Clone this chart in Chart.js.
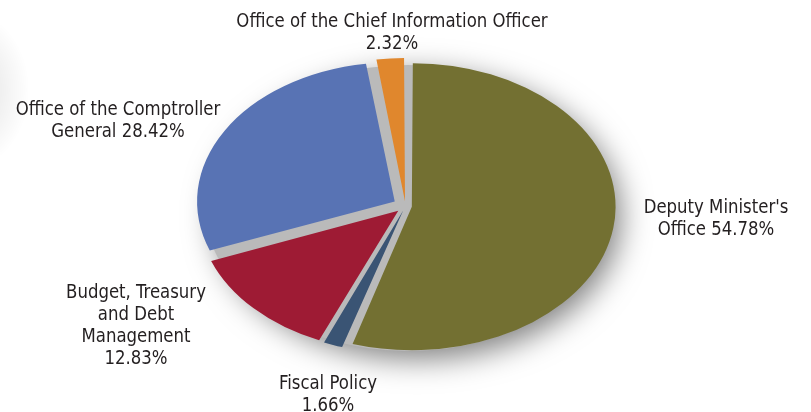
<!DOCTYPE html>
<html>
<head>
<meta charset="utf-8">
<script src="https://cdn.jsdelivr.net/npm/chart.js@4"></script>
<style>
  html, body { margin: 0; padding: 0; background: #fff; }
  #wrap { position: relative; width: 811px; height: 412px; overflow: hidden; }
  #edgeShade {
    position: absolute; left: -60px; top: 10px; width: 90px; height: 160px;
    background: radial-gradient(ellipse at 30% 50%, rgba(0,0,0,0.13), rgba(0,0,0,0) 70%);
  }
  .lbl {
    position: absolute; transform: translateX(-50%) scaleX(0.92);
    font-family: "DejaVu Sans Condensed", "DejaVu Sans", sans-serif;
    font-stretch: condensed;
    font-size: 20px; line-height: 22px; color: #231f20;
    text-align: center; white-space: pre;
  }
</style>
</head>
<body>
<div id="wrap">
  <div id="edgeShade"></div>
  <canvas id="pie" width="811" height="412"></canvas>
</div>
<script>
// slices, clockwise from 12 o'clock
const categories = [
  "Deputy Minister's\nOffice",
  "Fiscal Policy",
  "Budget, Treasury\nand Debt\nManagement",
  "Office of the Comptroller\nGeneral",
  "Office of the Chief Information Officer"
];
const shares = [54.78, 1.66, 12.83, 28.42, 2.32];
const colours = ['#737032', '#3a5474', '#9e1b34', '#5873b4', '#e0872d'];

// label placement: centre x, top y, and whether the value goes on its own line
const labelX = [716, 328, 136, 118, 392];
const labelY = [195, 371, 280, 97, 9];
const labelSep = [' ', '\n', '\n', ' ', '\n'];

const SX = 1.42;      // horizontal stretch of the pie
const RADIUS = 139;
const PUSH = 9;       // how far each slice is pulled out from the centre

// Chart.js moves an arc by offset/4 * (2 - sin(angle)), so undo that to get an even gap
const total = shares.reduce((a, b) => a + b, 0);
const offsets = shares.map(v => {
  const ang = v / total * Math.PI * 2;
  return 4 * PUSH / (2 - Math.sin(Math.min(Math.PI, ang)));
});

const ovalPie = {
  id: 'ovalPie',
  beforeDatasetsDraw(chart) {
    const arc = chart.getDatasetMeta(0).data[0];
    const { x, y, outerRadius } = arc;
    const ctx = chart.ctx;
    ctx.save();
    ctx.translate(x, y);
    ctx.scale(SX, 1);
    ctx.translate(-x, -y);
    // grey plate under the slices, with a soft drop shadow
    ctx.save();
    ctx.shadowColor = 'rgba(0,0,0,0.5)';
    ctx.shadowBlur = 30;
    ctx.shadowOffsetX = 9;
    ctx.shadowOffsetY = 8;
    ctx.fillStyle = '#bababa';
    ctx.beginPath();
    ctx.arc(x + 2, y + 2, outerRadius + 4, 0, Math.PI * 2);
    ctx.fill();
    ctx.restore();
  },
  afterDatasetsDraw(chart) {
    chart.ctx.restore();
  }
};

new Chart(document.getElementById('pie'), {
  type: 'pie',
  data: {
    labels: categories.map(c => c.replace(/\n/g, ' ')),
    datasets: [{
      data: shares,
      backgroundColor: colours,
      borderWidth: 0,
      offset: offsets,
      hoverOffset: 0
    }]
  },
  options: {
    responsive: false,
    animation: false,
    radius: RADIUS,
    layout: { padding: 0 },
    plugins: {
      legend: { display: false },
      tooltip: { enabled: false }
    }
  },
  plugins: [ovalPie]
});

const wrap = document.getElementById('wrap');
categories.forEach((name, i) => {
  const d = document.createElement('div');
  d.className = 'lbl';
  d.style.left = labelX[i] + 'px';
  d.style.top = labelY[i] + 'px';
  d.textContent = name + labelSep[i] + shares[i].toFixed(2) + '%';
  wrap.appendChild(d);
});
</script>
</body>
</html>
